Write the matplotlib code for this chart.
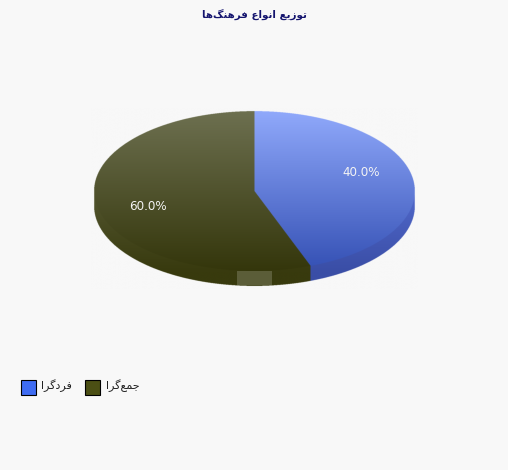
import matplotlib
matplotlib.use('Agg')
import matplotlib.pyplot as plt
import numpy as np
from matplotlib.colors import to_rgb
from matplotlib.patches import Rectangle

title = 'توزیع انواع فرهنگ\u200cها'
categories = ['فردگرا', 'جمع\u200cگرا']
values = [40.0, 60.0]
swatch_colors = ['#3f6cf2', '#4b4f14']
top_colors = [('#90a9fb', '#3450b4'), ('#6d7050', '#34360b')]
side_colors = [('#6984f1', '#3a4ea6'), ('#6f7252', '#383a0e')]
bg = '#f8f8f8'

# matplotlib does not shape arabic, so pick the presentation forms by hand
forms = {
    'ت': (0xFE95, 0xFE96, 0xFE97, 0xFE98),
    'ی': (0xFBFC, 0xFBFD, 0xFBFE, 0xFBFF),
    'ع': (0xFEC9, 0xFECA, 0xFECB, 0xFECC),
    'ن': (0xFEE5, 0xFEE6, 0xFEE7, 0xFEE8),
    'ف': (0xFED1, 0xFED2, 0xFED3, 0xFED4),
    'ه': (0xFEE9, 0xFEEA, 0xFEEB, 0xFEEC),
    'گ': (0xFB92, 0xFB93, 0xFB94, 0xFB95),
    'ج': (0xFE9D, 0xFE9E, 0xFE9F, 0xFEA0),
    'م': (0xFEE1, 0xFEE2, 0xFEE3, 0xFEE4),
    'و': (0xFEED, 0xFEEE),
    'ز': (0xFEAF, 0xFEB0),
    'ا': (0xFE8D, 0xFE8E),
    'ر': (0xFEAD, 0xFEAE),
    'د': (0xFEA9, 0xFEAA),
}


def shape(text):
    out = []
    for i, c in enumerate(text):
        if c not in forms:
            if c != '\u200c':
                out.append(c)
            continue
        before = i > 0 and text[i - 1] in forms and len(forms[text[i - 1]]) == 4
        after = i + 1 < len(text) and text[i + 1] in forms and len(forms[c]) == 4
        idx = {(0, 0): 0, (1, 0): 1, (0, 1): 2, (1, 1): 3}[(int(before), int(after))]
        out.append(chr(forms[c][idx]))
    return ''.join(out[::-1])


fig = plt.figure(figsize=(5.08, 4.7), dpi=100, facecolor=bg)
ax = fig.add_axes([0, 0, 1, 1])
ax.set_axis_off()

cx, cy = 254.5, 191
rx, ry = 160.5, 80
depth = 15
tilt = 0.514  # foreshortening of the slice angles in the 3d view


def screen_angle(a):
    t = np.radians(a)
    s = np.arctan2(tilt * np.sin(t), np.cos(t))
    return s + 2 * np.pi if s < -1e-9 else s


def blend(c0, c1, f):
    return np.array(to_rgb(c0)) + (np.array(to_rgb(c1)) - np.array(to_rgb(c0))) * f[..., None]


# the pie is one supersampled image, separate clipped images leave dark seams
box = (cx - rx - 3, cx + rx + 3, cy + ry + depth + 3, cy - ry - 3)
xs = np.linspace(box[0], box[1], 1320)
ys = np.linspace(box[3], box[2], 760)
x, y = np.meshgrid(xs, ys)
u = (x - cx) / rx
v = (y - cy) / ry
on_top = u ** 2 + v ** 2 <= 1
on_side = ~on_top & (np.abs(u) <= 1) & (y > cy) & (y <= cy + depth + ry * np.sqrt(np.clip(1 - u ** 2, 0, 1)))
ang_top = np.mod(np.arctan2(u, -v), 2 * np.pi)
ang_side = np.pi - np.arcsin(np.clip(u, -1, 1))
grad = np.clip((y - (cy - ry)) / (2 * ry), 0, 1)

pie = np.ones(x.shape + (3,)) * np.array(to_rgb(bg))
edges = np.cumsum([0] + values) / sum(values) * 360
for i in range(len(values)):
    s0 = screen_angle(edges[i])
    s1 = 2 * np.pi if edges[i + 1] >= 360 else screen_angle(edges[i + 1])
    m = on_side & (ang_side >= s0) & (ang_side <= s1)
    pie[m] = blend(side_colors[i][0], side_colors[i][1], grad)[m]
    m = on_top & (ang_top >= s0) & (ang_top <= s1)
    pie[m] = blend(top_colors[i][0], top_colors[i][1], grad)[m]

ax.imshow(pie, extent=box, aspect='auto', interpolation='hanning', zorder=1)

# little lighter tab on the front of the pie
ax.add_patch(Rectangle((237, 271), 35, 13.5, fc='#5b5d38', ec='none', zorder=3))

ax.text(361, 172.5, '%.1f%%' % values[0], color='#f4f4f4', fontsize=8.6, family='DejaVu Sans',
        ha='center', va='center', zorder=4)
ax.text(148, 206.5, '%.1f%%' % values[1], color='#f4f4f4', fontsize=8.6, family='DejaVu Sans',
        ha='center', va='center', zorder=4)

ax.text(254.5, 15, shape(title), color='#14146e', fontsize=7.4, fontweight='bold',
        family='DejaVu Sans', ha='center', va='center')

for bx, name, col, tx in zip([20.5, 84.5], categories, swatch_colors, [56, 122.5]):
    ax.add_patch(Rectangle((bx, 379.5), 15, 15, fc=col, ec='black', lw=0.8))
    ax.text(tx, 386, shape(name), color='#222222', fontsize=8.0, family='DejaVu Sans',
            ha='center', va='center')

ax.set_xlim(0, 508)
ax.set_ylim(470, 0)
fig.savefig('out.png', dpi=100, facecolor=bg)
